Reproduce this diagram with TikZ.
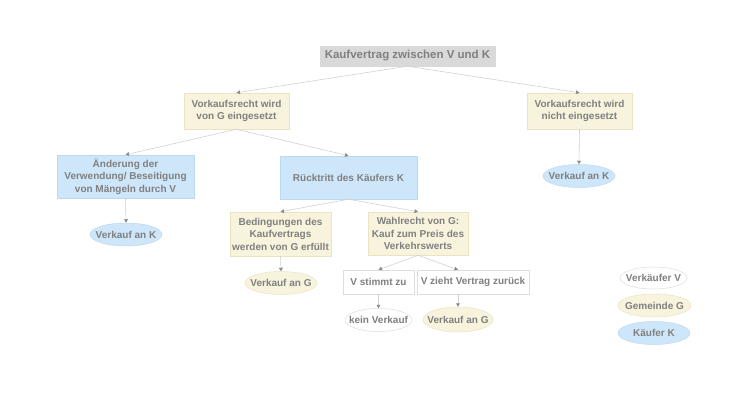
\documentclass[tikz,border=0pt]{standalone}
\usepackage{fontspec}
\setmainfont{Liberation Sans}
\usetikzlibrary{shapes.geometric,arrows.meta}
\definecolor{txtcol}{HTML}{808080}
\definecolor{edgecol}{HTML}{D2D2D2}
\definecolor{tipcol}{HTML}{8A8A8A}
\definecolor{rootfill}{HTML}{D9D9D9}
\definecolor{bluefill}{HTML}{CDE6FA}
\definecolor{blueline}{HTML}{BBDAF2}
\definecolor{creamfill}{HTML}{F7F3DC}
\definecolor{creamline}{HTML}{EAE4C4}
\definecolor{whiteline}{HTML}{DEDEDE}
\tikzset{
  lbl/.style={font=\bfseries\fontsize{10}{12.5}\selectfont, text=txtcol, align=center},
  box/.style={lbl, rectangle, inner sep=1pt},
  rootbox/.style={box, fill=rootfill, draw=rootfill, font=\bfseries\fontsize{11.5}{13}\selectfont},
  bluebox/.style={box, fill=bluefill, draw=blueline, line width=0.5pt},
  creambox/.style={box, fill=creamfill, draw=creamline, line width=0.5pt},
  whitebox/.style={box, fill=white, draw=whiteline, line width=0.5pt},
  oval/.style={lbl, ellipse, inner sep=0pt, minimum height=23pt, line width=0.5pt},
  blueoval/.style={oval, fill=bluefill, draw=blueline},
  creamoval/.style={oval, fill=creamfill, draw=creamline},
  whiteoval/.style={oval, fill=white, draw=whiteline},
  edge/.style={draw=edgecol, line width=0.6pt, -{Triangle[length=3.5pt,width=3.8pt,color=tipcol]}}
}
\begin{document}
\begin{tikzpicture}[x=1pt,y=-1pt]
\useasboundingbox[fill=white] (0,0) rectangle (750,412);

\node[rootbox, minimum width=175pt, minimum height=20pt] (root) at (407.5,56) {Kaufvertrag zwischen V und K};

\node[creambox, minimum width=105pt, minimum height=36pt] (vg) at (236.5,111) {Vorkaufsrecht wird\\von G eingesetzt};
\node[creambox, minimum width=105pt, minimum height=36pt] (vn) at (579.5,111) {Vorkaufsrecht wird\\nicht eingesetzt};

\node[bluebox, minimum width=137pt, minimum height=43pt] (aend) at (125.5,176.5) {Änderung der\\Verwendung/ Beseitigung\\von Mängeln durch V};
\node[bluebox, minimum width=137pt, minimum height=43pt] (rueck) at (348.5,177.5) {Rücktritt des Käufers K};

\node[blueoval, minimum width=72pt] (vkr) at (579,176) {\makebox[0pt]{Verkauf an K}};
\node[blueoval, minimum width=72pt] (vkl) at (126,234.5) {\makebox[0pt]{Verkauf an K}};

\node[creambox, minimum width=101pt, minimum height=44pt] (bed) at (280.5,234) {Bedingungen des\\Kaufvertrags\\werden von G erfüllt};
\node[creambox, minimum width=100pt, minimum height=43pt] (wahl) at (418,233.5) {Wahlrecht von G:\\Kauf zum Preis des\\Verkehrswerts};

\node[creamoval, minimum width=72pt] (vgl) at (281,283) {\makebox[0pt]{Verkauf an G}};

\node[whitebox, minimum width=71pt, minimum height=24pt] (vs) at (378.5,282) {V stimmt zu};
\node[whitebox, minimum width=112pt, minimum height=24pt] (vz) at (473,282) {V zieht Vertrag zurück};

\node[whiteoval, minimum width=67pt] (kein) at (378.5,320) {\makebox[0pt]{kein Verkauf}};
\node[creamoval, minimum width=70pt, minimum height=25pt] (vgr) at (458,319.5) {\makebox[0pt]{Verkauf an G}};

% legend
\node[whiteoval, minimum width=67pt, minimum height=22pt] (legv) at (653.5,278) {\makebox[0pt]{Verkäufer V}};
\node[creamoval, minimum width=73pt] (legg) at (654.5,305.5) {\makebox[0pt]{Gemeinde G}};
\node[blueoval, minimum width=72pt] (legk) at (654,333) {\makebox[0pt]{Käufer K}};

% connectors
\draw[edge] (root.south) -- (vg.north);
\draw[edge] (root.south) -- (vn.north);
\draw[edge] (vn.south) -- (vkr.north);
\draw[edge] (vg.south) -- (aend.north);
\draw[edge] (vg.south) -- (rueck.north);
\draw[edge] (aend.south) -- (vkl.north);
\draw[edge] (rueck.south) -- (bed.north);
\draw[edge] (rueck.south) -- (wahl.north);
\draw[edge] (bed.south) -- (vgl.north);
\draw[edge] (wahl.south) -- (vs.north);
\draw[edge] (wahl.south) -- (vgr.north |- vz.north);
\draw[edge] (vs.south) -- (kein.north);
\draw[edge] (vgr.north |- vz.south) -- (vgr.north);
\end{tikzpicture}
\end{document}
